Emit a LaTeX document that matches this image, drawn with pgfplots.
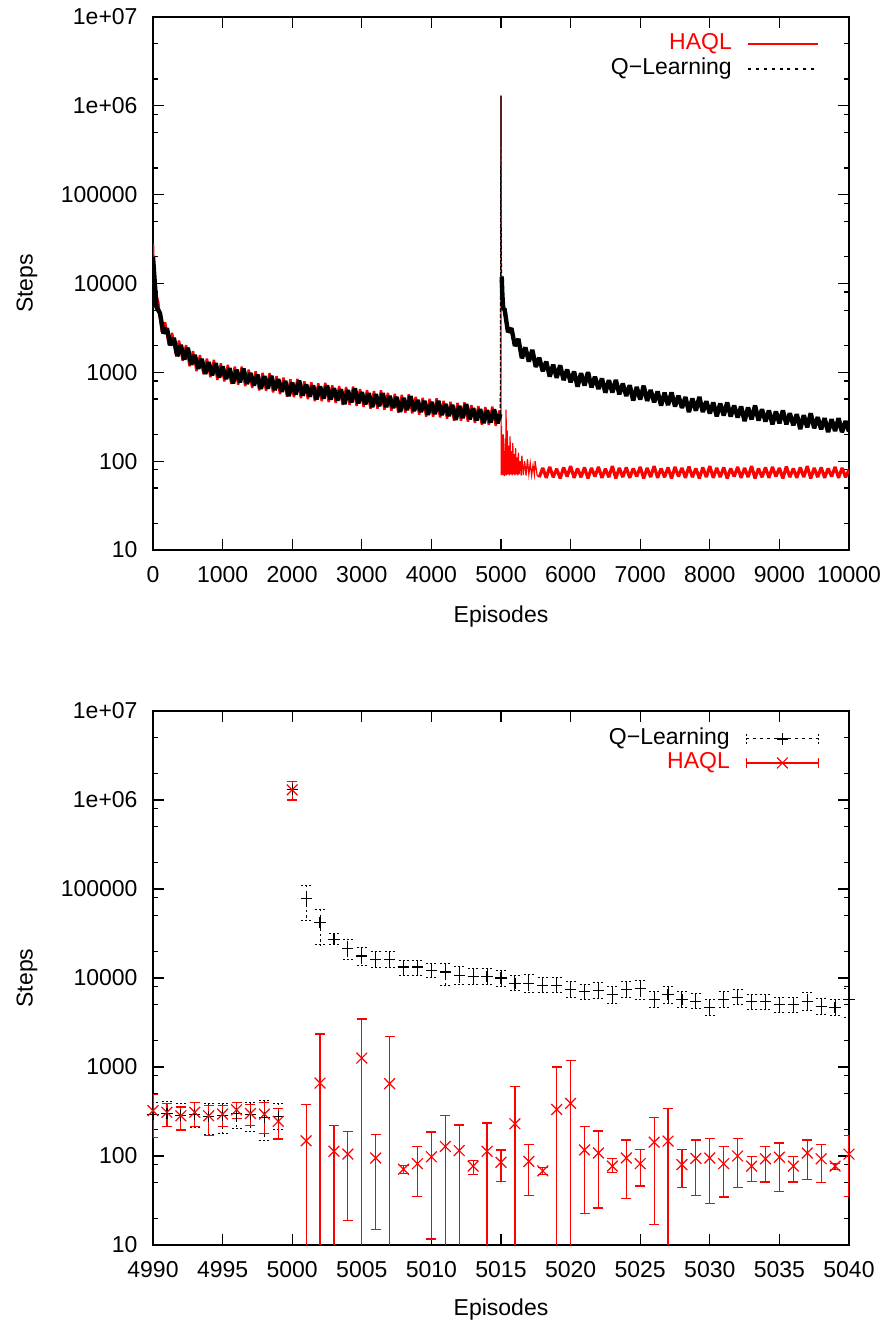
\documentclass[border=0pt]{standalone}
\usepackage{fontspec}
\setmainfont{Liberation Sans}
\usepackage{pgfplots}
\usepackage{pgfplotstable}
\pgfplotsset{compat=1.18}
\newcommand{\fs}{\fontsize{11.5}{13}\selectfont}

\pgfplotstableread{
x y ep em
4990 290 110 90
4991 300 110 85
4992 285 105 85
4993 295 105 85
4994 275 115 100
4995 285 100 105
4996 300 100 95
4997 290 105 100
4998 270 150 120
4999 280 110 80
5000 1300000 300000 300000
5001 78000 32000 34000
5002 42000 17000 18500
5003 27000 4600 3500
5004 21400 5600 5100
5005 17700 4100 3900
5006 16300 3700 3100
5007 16300 3700 3300
5008 13300 2600 2700
5009 13300 2600 2500
5010 12200 2200 2200
5011 11700 2700 3400
5012 10700 2800 2200
5013 10400 2400 2000
5014 10400 2400 2000
5015 10000 2200 2000
5016 8700 2100 1500
5017 8700 2300 1900
5018 8300 1700 1500
5019 8300 1700 1500
5020 7400 1800 1400
5021 7000 1500 1300
5022 7200 1600 1300
5023 6500 1500 1300
5024 7500 1700 1500
5025 7600 1700 1800
5026 5700 1300 1000
5027 6500 1500 1300
5028 5700 1300 1000
5029 5500 1200 1000
5030 4700 1100 900
5031 5750 1350 1050
5032 6100 1400 1100
5033 5400 1200 1000
5034 5400 1200 1000
5035 5000 1100 900
5036 5000 1100 900
5037 5400 1500 1100
5038 4800 1100 900
5039 4650 1050 850
5040 5700 1900 2100
}\qltab

\pgfplotstableread{
x y ep em
4990 323 167 161
4991 310 80 95
4992 283 72 87
4993 310 90 95
4994 283 87 113
4995 296 74 81
4996 330 70 65
4997 300 80 80
4998 296 104 116
4999 245 95 90
5000 1300000 300000 300000
5001 148 232 147
5002 660 1690 659
5003 113 105 112
5004 105 82 86
5005 1260 2210 1259
5006 95 79 80.2
5007 650 1550 649
5008 71 7 8
5009 82 46 47
5010 98 88 86.3
5011 128 155 127
5012 115 108 114
5013 77 12 15
5014 113 122 112
5015 85 32 33
5016 230 380 229
5017 87 47 51
5018 68 7 6
5019 333 667 332
5020 390 790 389
5021 117 97 94.4
5022 108 83 82
5023 77 16 12
5024 95 56 62
5025 82 36 36
5026 143 127 126
5027 147 193 146
5028 80 38 36
5029 94 57 58
5030 95 62 65.5
5031 82 47 47.4
5032 100 57 56
5033 77 21 25
5034 93 36 42
5035 97 43 57
5036 77 21 26
5037 108 43 53
5038 93 41 43
5039 77 6 7
5040 105 65 70
}\haqltab

\begin{document}
\begin{tikzpicture}
\path[use as bounding box] (0,0) rectangle (443.5pt,662pt);

% ---------------- top axis ----------------
\begin{axis}[at={(76.5pt,387pt)}, anchor=south west,
  scale only axis, width=348pt, height=266.5pt,
  ymode=log, ymin=10, ymax=1e7,
  ytick={10,100,1000,10000,100000,1000000,10000000},
  yticklabels={10,100,1000,10000,100000,1e+06,1e+07},
  minor ytick={20,50,80,200,500,800,2000,5000,8000,20000,50000,80000,200000,500000,800000,2000000,5000000},
  tick align=inside, major tick length=5.5pt, minor tick length=2.5pt,
  axis line style={line width=0.75pt},
  every tick/.style={black, line width=0.6pt},
  every minor tick/.style={black, line width=0.6pt},
  every tick label/.append style={font=\fs},
  yticklabel style={xshift=-4.2pt},
  xticklabel style={yshift=-4.5pt},
  scaled x ticks=false,
  /pgf/number format/assume math mode=true,
  /pgf/number format/1000 sep={},
  ylabel={Steps}, xlabel={Episodes},
  ylabel style={at={(axis description cs:-0.181,0.5)}, anchor=center, font=\fs},
  xlabel style={at={(axis description cs:0.5,-0.1257)}, anchor=center, font=\fs},
  xmin=0, xmax=10000, xtick={0,1000,...,10000},
  legend cell align=right, legend plot pos=right,
  legend style={draw=none, fill=none, at={(axis description cs:1,1)}, anchor=north east,
    xshift=-15pt, yshift=-8pt, inner sep=0pt, outer sep=0pt, font=\fs,
    column sep=8pt, row sep=1.5pt,
    nodes={inner sep=0pt, text height=8.5pt, text depth=2.5pt}}]
% HAQL, episodes 0-5000
\addplot[red, line width=1.2pt, line join=bevel,
  legend image code/.code={\draw[red, line width=0.6pt] (0pt,0pt) -- (35pt,0pt);}]
coordinates {
(0,28000) (10,14000) (25,8500) (75,6250) (125,2840) (175,3660) (225,2020) (275,2780) (325,1600) (375,2280) (425,1350) (475,2030) (525,1170) (575,1730) (625,1030) (675,1560) (725,956) (775,1430) (825,880) (875,1380) (925,824) (975,1260) (1025,792) (1075,1210) (1125,741) (1175,1160) (1225,728) (1275,1160) (1325,697) (1375,1070) (1425,669) (1475,1025) (1525,627) (1575,985) (1625,618) (1675,983) (1725,593) (1775,908) (1825,569) (1875,871) (1925,532) (1975,835) (2025,525) (2075,842) (2125,512) (2175,790) (2225,499) (2275,770) (2325,474) (2375,751) (2425,474) (2475,762) (2525,463) (2575,715) (2625,452) (2675,698) (2725,430) (2775,680) (2825,430) (2875,690) (2925,419) (2975,648) (3025,409) (3075,631) (3125,389) (3175,616) (3225,390) (3275,625) (3325,380) (3375,586) (3425,370) (3475,571) (3525,352) (3575,558) (3625,352) (3675,566) (3725,344) (3775,530) (3825,334) (3875,516) (3925,318) (3975,503) (4025,318) (4075,510) (4125,310) (4175,478) (4225,302) (4275,465) (4325,286) (4375,453) (4425,286) (4475,458) (4525,278) (4575,428) (4625,270) (4675,416) (4725,257) (4775,405) (4825,256) (4875,411) (4925,250) (4975,371) (4999,300)
};
\addlegendentry{\textcolor{red}{HAQL}}
% HAQL, spike and recovery
\addplot[red, line width=0.6pt, forget plot]
coordinates {
(4999,300) (5000,1300000) (5002,69) (5008,250) (5015,72) (5020,160) (5026,70) (5032,200) (5038,69) (5045,120) (5052,68) (5060,180) (5066,70) (5073,380) (5080,69) (5090,220) (5100,71) (5110,150) (5120,69) (5130,190) (5140,71) (5150,130) (5160,69) (5170,160) (5180,71) (5190,120) (5200,69) (5210,140) (5220,71) (5230,110) (5240,69) (5250,125) (5260,71) (5275,100) (5290,69) (5300,115) (5320,70) (5340,100) (5360,69) (5380,105) (5400,71) (5420,95) (5440,69) (5460,90) (5480,71) (5490,100) (5520,69) (5550,66)
};
% HAQL, 5550-10000
\addplot[red, line width=1.6pt, line join=bevel, forget plot]
coordinates {
(5550,66) (5600,84) (5650,65) (5700,86) (5750,66) (5800,82) (5850,64) (5900,85) (5950,67) (6000,88) (6050,65) (6100,83) (6150,66) (6200,85) (6250,64) (6300,84) (6350,67) (6400,86) (6450,65) (6500,82) (6550,66) (6600,88) (6650,64) (6700,84) (6750,66) (6800,85) (6850,65) (6900,83) (6950,67) (7000,86) (7050,64) (7100,84) (7150,66) (7200,88) (7250,65) (7300,83) (7350,66) (7400,85) (7450,64) (7500,86) (7550,67) (7600,84) (7650,65) (7700,87) (7750,66) (7800,83) (7850,64) (7900,85) (7950,66) (8000,88) (8050,65) (8100,84) (8150,66) (8200,85) (8250,64) (8300,83) (8350,67) (8400,86) (8450,65) (8500,84) (8550,66) (8600,88) (8650,64) (8700,83) (8750,66) (8800,85) (8850,65) (8900,86) (8950,67) (9000,84) (9050,64) (9100,87) (9150,66) (9200,83) (9250,65) (9300,85) (9350,66) (9400,88) (9450,64) (9500,84) (9550,66) (9600,85) (9650,65) (9700,83) (9750,67) (9800,86) (9850,65) (9900,84) (9950,66) (10000,80)
};
% Q-Learning, episodes 0-4990
\addplot[black, line width=2.2pt, line join=bevel,
  legend image code/.code={\draw[black, line width=0.6pt, dash pattern=on 1.5pt off 2.4pt] (0pt,0pt) -- (33pt,0pt);}]
coordinates {
(0,20000) (50,5420) (100,4640) (150,2750) (200,3130) (250,2020) (300,2440) (350,1520) (400,2030) (450,1390) (500,1890) (550,1220) (600,1570) (650,1100) (700,1415) (750,960) (800,1300) (850,929) (900,1270) (950,877) (1000,1160) (1050,843) (1100,1114) (1150,752) (1200,1067) (1250,774) (1300,1100) (1350,741) (1400,980) (1450,712) (1500,942) (1550,653) (1600,905) (1650,657) (1700,914) (1750,631) (1800,834) (1850,605) (1900,800) (1950,540) (2000,766) (2050,561) (2100,805) (2150,547) (2200,728) (2250,533) (2300,710) (2350,496) (2400,693) (2450,507) (2500,711) (2550,495) (2600,660) (2650,483) (2700,644) (2750,438) (2800,628) (2850,460) (2900,660) (2950,448) (3000,597) (3050,437) (3100,582) (3150,407) (3200,568) (3250,416) (3300,583) (3350,406) (3400,541) (3450,396) (3500,527) (3550,359) (3600,514) (3650,377) (3700,540) (3750,367) (3800,488) (3850,358) (3900,477) (3950,332) (4000,464) (4050,340) (4100,476) (4150,331) (4200,441) (4250,323) (4300,429) (4350,292) (4400,418) (4450,305) (4500,438) (4550,297) (4600,394) (4650,289) (4700,384) (4750,268) (4800,374) (4850,273) (4900,383) (4950,267) (4990,339)
};
\addlegendentry{Q−Learning}
% Q-Learning, spike
\addplot[black, line width=0.6pt, dash pattern=on 2pt off 1pt, forget plot]
coordinates {
(4990,339) (5000,1300000) (5001,80000) (5003,27000) (5006,16000) (5010,12000)
};
% Q-Learning, 5010-10000
\addplot[black, line width=2.2pt, line join=bevel, forget plot]
coordinates {
(5010,12000) (5020,7400) (5030,5500) (5040,5000) (5050,5220) (5100,2840) (5150,3130) (5200,1980) (5250,2380) (5300,1440) (5350,1910) (5400,1320) (5450,1790) (5500,1150) (5550,1460) (5600,1030) (5650,1320) (5700,894) (5750,1220) (5800,869) (5850,1200) (5900,817) (5950,1073) (6000,774) (6050,1020) (6100,689) (6150,977) (6200,708) (6250,1006) (6300,677) (6350,893) (6400,648) (6450,854) (6500,590) (6550,817) (6600,592) (6650,821) (6700,566) (6750,747) (6800,542) (6850,715) (6900,482) (6950,683) (7000,495) (7050,706) (7100,477) (7150,632) (7200,460) (7250,609) (7300,423) (7350,588) (7400,427) (7450,595) (7500,413) (7550,546) (7600,398) (7650,527) (7700,357) (7750,508) (7800,370) (7850,529) (7900,357) (7950,473) (8000,344) (8050,458) (8100,320) (8150,447) (8200,327) (8250,458) (8300,318) (8350,423) (8400,310) (8450,413) (8500,282) (8550,403) (8600,295) (8650,423) (8700,287) (8750,383) (8800,280) (8850,372) (8900,260) (8950,363) (9000,267) (9050,373) (9100,260) (9150,346) (9200,254) (9250,338) (9300,230) (9350,329) (9400,241) (9450,346) (9500,235) (9550,313) (9600,229) (9650,305) (9700,212) (9750,297) (9800,218) (9850,305) (9900,212) (9950,282) (10000,216)
};
\end{axis}

% ---------------- bottom axis ----------------
\begin{axis}[at={(76.5pt,39.5pt)}, anchor=south west,
  scale only axis, width=348pt, height=267pt,
  ymode=log, ymin=10, ymax=1e7,
  ytick={10,100,1000,10000,100000,1000000,10000000},
  yticklabels={10,100,1000,10000,100000,1e+06,1e+07},
  minor ytick={20,50,80,200,500,800,2000,5000,8000,20000,50000,80000,200000,500000,800000,2000000,5000000},
  tick align=inside, major tick length=5.5pt, minor tick length=2.5pt,
  axis line style={line width=0.75pt},
  every tick/.style={black, line width=0.6pt},
  every minor tick/.style={black, line width=0.6pt},
  every tick label/.append style={font=\fs},
  yticklabel style={xshift=-4.2pt},
  xticklabel style={yshift=-4.5pt},
  scaled x ticks=false,
  /pgf/number format/assume math mode=true,
  /pgf/number format/1000 sep={},
  ylabel={Steps}, xlabel={Episodes},
  ylabel style={at={(axis description cs:-0.181,0.5)}, anchor=center, font=\fs},
  xlabel style={at={(axis description cs:0.5,-0.12)}, anchor=center, font=\fs},
  xmin=4990, xmax=5040, xtick={4990,4995,...,5040},
  legend cell align=right, legend plot pos=right,
  legend style={draw=none, fill=none, at={(axis description cs:1,1)}, anchor=north east,
    xshift=-15pt, yshift=-8.5pt, inner sep=0pt, outer sep=0pt, font=\fs,
    column sep=8pt, row sep=1pt,
    nodes={inner sep=0pt, text height=8.5pt, text depth=2.5pt}}]
\addplot[black, only marks, mark=+, mark size=2.8pt, mark options={solid, line width=0.6pt},
  legend image code/.code={
    \draw[black, line width=0.5pt, dash pattern=on 1.5pt off 2pt] (0pt,0pt) -- (36pt,0pt);
    \draw[black, line width=0.5pt, dash pattern=on 1pt off 1pt] (0pt,-2.5pt) -- (0pt,2.5pt) (36pt,-2.5pt) -- (36pt,2.5pt);
    \draw[black, solid, line width=0.6pt, mark size=2.8pt] plot[mark=+] coordinates {(18pt,0pt)};},
  error bars/.cd, y dir=both, y explicit,
  error bar style={black, line width=0.5pt, dash pattern=on 1.2pt off 1.6pt},
  error mark options={rotate=90, black, line width=0.5pt, mark size=2.5pt, dash pattern=on 1pt off 1pt}]
table[x=x, y=y, y error plus=ep, y error minus=em]{\qltab};
\addlegendentry{Q−Learning}
\addplot[red, only marks, mark=x, mark size=3.8pt, mark options={solid, line width=0.6pt},
  legend image code/.code={
    \draw[red, line width=0.6pt] (0pt,0pt) -- (36pt,0pt);
    \draw[red, line width=0.6pt] (0pt,-2.5pt) -- (0pt,2.5pt) (36pt,-2.5pt) -- (36pt,2.5pt);
    \draw[red, solid, line width=0.6pt, mark size=3.8pt] plot[mark=x] coordinates {(18pt,0pt)};},
  error bars/.cd, y dir=both, y explicit,
  error bar style={red, line width=0.6pt, solid},
  error mark options={rotate=90, red, line width=0.6pt, mark size=2.5pt, solid}]
table[x=x, y=y, y error plus=ep, y error minus=em]{\haqltab};
\addlegendentry{\textcolor{red}{HAQL}}
\end{axis}
\end{tikzpicture}
\end{document}
